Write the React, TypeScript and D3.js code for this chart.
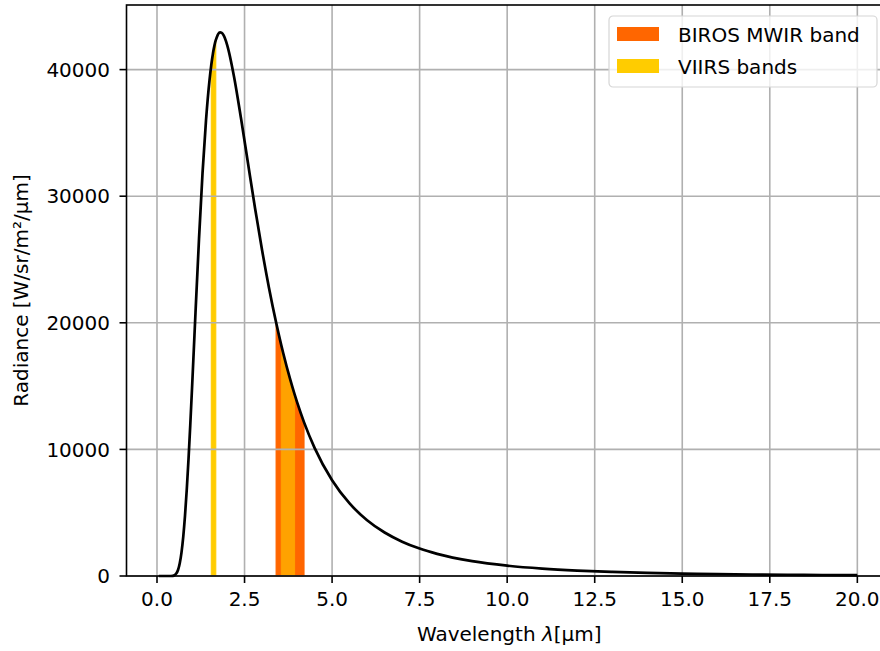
import React, { useEffect, useRef } from 'react';
import * as d3 from 'd3';

// wavelength samples [µm] and radiance [W/sr/m²/µm]
const wavelengths = [
  0.05, 0.3, 0.4, 0.45, 0.5, 0.55, 0.6, 0.65, 0.7, 0.75, 0.8, 0.85, 0.9, 0.95,
  1.0, 1.05, 1.1, 1.2, 1.3, 1.4, 1.5, 1.55, 1.58, 1.6, 1.64, 1.68, 1.7, 1.75,
  1.8, 1.85, 1.9, 2.0, 2.2, 2.4, 2.6, 2.8, 3.0, 3.2, 3.4, 3.55, 3.6, 3.8, 3.93,
  4.0, 4.2, 4.5, 5.0, 5.5, 6.0, 6.5, 7.0, 7.5, 8.0, 9.0, 10, 11, 12, 13, 14,
  15, 16, 17, 18, 19, 20,
];
const radiance = [
  0, 0, 2, 14, 59, 188, 473, 1007, 1870, 3115, 4770, 6830, 9230, 11919,
  14811, 17813, 20833, 26650, 31818, 36014, 39171, 40365, 40955, 41318, 41896, 42343, 42494, 42820,
  42935, 42896, 42718, 41981, 39444, 36136, 32577, 29055, 25748, 22733, 20037, 18222, 17655, 15563, 14344,
  13732, 12137, 10123, 7561, 5731, 4406, 3434, 2712, 2166, 1750, 1175, 817, 585, 429, 322, 246,
  191, 151, 120, 97, 80, 66,
];

const bands = [
  { name: 'BIROS MWIR band', from: 3.4, to: 4.2, color: '#ff6600' },
  { name: 'VIIRS bands', from: 1.55, to: 1.68, color: '#ffcc00' },
  { name: 'VIIRS I4', from: 3.55, to: 3.93, color: '#ffa200' },
];
const legendNames = ['BIROS MWIR band', 'VIIRS bands'];

const xTicks = [0, 2.5, 5, 7.5, 10, 12.5, 15, 17.5, 20];
const yTicks = [0, 10000, 20000, 30000, 40000];

const W = 880;
const H = 651;
const FONT = 'DejaVu Sans, sans-serif';

const App = () => {
  const ref = useRef<SVGSVGElement>(null);

  useEffect(() => {
    const svg = d3.select(ref.current);
    svg.selectAll('*').remove();

    const left = 126.5, right = 892, top = 5, bottom = 576;

    const x = d3.scaleLinear().domain([-0.871, 20.99]).range([left, right]);
    const y = d3.scaleLinear().domain([0, 45103]).range([bottom, top]);

    const pts = wavelengths.map((w, i) => ({ w, r: radiance[i] }));

    // band fills under the curve
    const area = d3.area<{ w: number; r: number }>()
      .x(d => x(d.w))
      .y0(y(0))
      .y1(d => y(d.r))
      .curve(d3.curveMonotoneX);

    svg.append('g')
      .selectAll('path')
      .data(bands)
      .join('path')
        .attr('d', b => area(pts.filter(p => p.w >= b.from && p.w <= b.to)))
        .attr('fill', b => b.color)
        .attr('stroke', b => b.color)
        .attr('stroke-width', 1);

    // grid (above patches, below lines)
    const grid = svg.append('g');
    grid.selectAll('.gx')
      .data(xTicks)
      .join('line')
        .attr('x1', d => x(d)).attr('x2', d => x(d))
        .attr('y1', top).attr('y2', bottom)
        .attr('stroke', '#b0b0b0').attr('stroke-width', 1.6);
    grid.selectAll('.gy')
      .data(yTicks)
      .join('line')
        .attr('x1', left).attr('x2', right)
        .attr('y1', d => y(d)).attr('y2', d => y(d))
        .attr('stroke', '#b0b0b0').attr('stroke-width', 1.6);

    // curve
    const line = d3.line<{ w: number; r: number }>()
      .x(d => x(d.w))
      .y(d => y(d.r))
      .curve(d3.curveMonotoneX);

    svg.append('path')
      .datum(pts)
      .attr('d', line)
      .attr('fill', 'none')
      .attr('stroke', '#000')
      .attr('stroke-width', 2.7)
      .attr('stroke-linejoin', 'round');

    // spines
    svg.append('rect')
      .attr('x', left).attr('y', top)
      .attr('width', right - left).attr('height', bottom - top)
      .attr('fill', 'none').attr('stroke', '#000').attr('stroke-width', 1.6);

    // x axis
    const xa = svg.append('g').attr('font-family', FONT).attr('font-size', 20).attr('fill', '#000');
    xa.selectAll('line')
      .data(xTicks)
      .join('line')
        .attr('x1', d => x(d)).attr('x2', d => x(d))
        .attr('y1', bottom).attr('y2', bottom + 7)
        .attr('stroke', '#000').attr('stroke-width', 1.6);
    xa.selectAll('text')
      .data(xTicks)
      .join('text')
        .attr('x', d => x(d))
        .attr('y', 606)
        .attr('text-anchor', 'middle')
        .text(d => d.toFixed(1));

    // y axis
    const ya = svg.append('g').attr('font-family', FONT).attr('font-size', 20).attr('fill', '#000');
    ya.selectAll('line')
      .data(yTicks)
      .join('line')
        .attr('x1', left - 7).attr('x2', left)
        .attr('y1', d => y(d)).attr('y2', d => y(d))
        .attr('stroke', '#000').attr('stroke-width', 1.6);
    ya.selectAll('text')
      .data(yTicks)
      .join('text')
        .attr('x', 110)
        .attr('y', d => y(d))
        .attr('dy', '0.36em')
        .attr('text-anchor', 'end')
        .text(d => String(d));

    // axis labels
    const xl = svg.append('text')
      .attr('x', (left + right) / 2)
      .attr('y', 641)
      .attr('text-anchor', 'middle')
      .attr('font-family', FONT).attr('font-size', 20).attr('fill', '#000');
    xl.append('tspan').text('Wavelength ');
    xl.append('tspan').attr('font-style', 'italic').text('λ');
    xl.append('tspan').text('[µm]');

    svg.append('text')
      .attr('transform', `translate(28,${(top + bottom) / 2}) rotate(-90)`)
      .attr('text-anchor', 'middle')
      .attr('font-family', FONT).attr('font-size', 20).attr('fill', '#000')
      .text('Radiance [W/sr/m²/µm]');

    // legend
    const legend = svg.append('g').attr('transform', 'translate(609,16)');
    legend.append('rect')
      .attr('width', 268).attr('height', 71)
      .attr('rx', 4)
      .attr('fill', 'rgba(255,255,255,0.8)')
      .attr('stroke', '#d6d6d6').attr('stroke-width', 1.2);

    const items = bands.filter(b => legendNames.includes(b.name));
    legend.selectAll('.sw')
      .data(items)
      .join('rect')
        .attr('x', 8)
        .attr('y', (d, i) => 11 + i * 32)
        .attr('width', 42)
        .attr('height', 14)
        .attr('fill', d => d.color);
    legend.selectAll('text')
      .data(items)
      .join('text')
        .attr('x', 69)
        .attr('y', (d, i) => 26 + i * 32)
        .attr('font-family', FONT).attr('font-size', 20).attr('fill', '#000')
        .text(d => d.name);
  }, []);

  return (
    <svg ref={ref} width={W} height={H} style={{ position: 'absolute', left: 0, top: 0, background: '#fff' }}></svg>
  );
};

export default App;
